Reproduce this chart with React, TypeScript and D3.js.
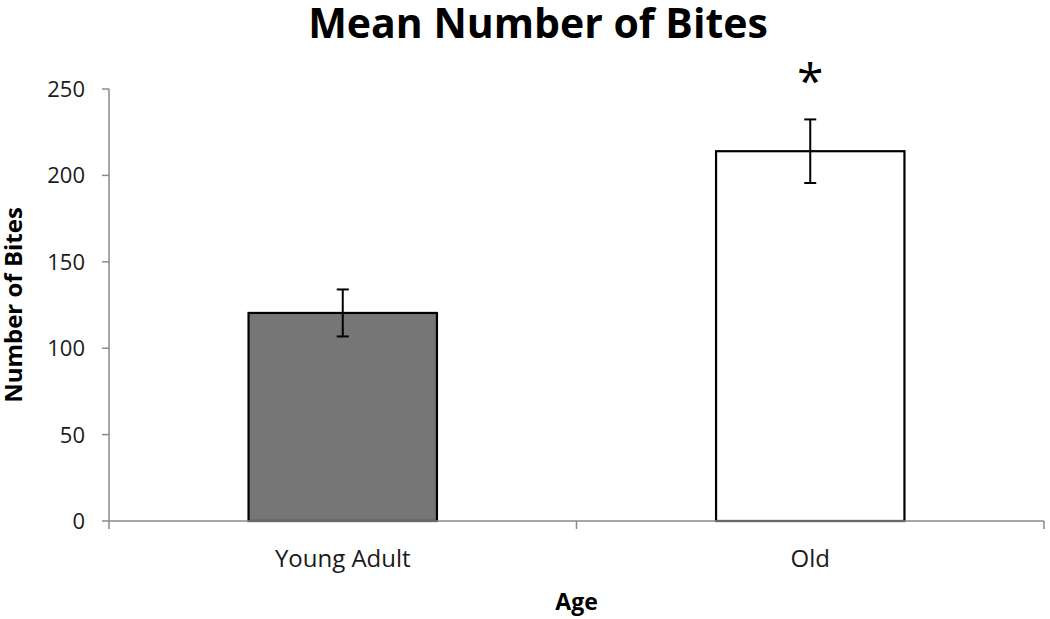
import React from "react";
import * as d3 from "d3";

const categories = ["Young Adult", "Old"];
const means = [120.4, 214];
const errors = [13.6, 18.4];
const fills = ["#767676", "#ffffff"];
const significance = ["", "*"];
const yTicks = [0, 50, 100, 150, 200, 250];

const W = 1050;
const H = 619;
const left = 109;
const right = 1044;
const top = 89;
const bottom = 521;
const font = "'Open Sans', 'Liberation Sans', sans-serif";

export default function App() {
  const x = d3.scaleBand<string>().domain(categories).range([left, right]).paddingInner(0).paddingOuter(0);
  const y = d3.scaleLinear().domain([0, 250]).range([bottom, top]);
  const bw = x.bandwidth() * 0.403;
  const axisColor = "#8a8a8a";
  return (
    <svg width={W} height={H} style={{ position: "absolute", left: 0, top: 0, background: "#fff" }}>
      <text x={538} y={38} textAnchor="middle" fontFamily={font} fontWeight="bold" fontSize={41} fill="#000">
        Mean Number of Bites
      </text>
      {/* y axis */}
      <line x1={left} x2={left} y1={y(250)} y2={y(0)} stroke={axisColor} strokeWidth={1.5} />
      {yTicks.map((t) => (
        <g key={t}>
          <line x1={left - 7} x2={left} y1={y(t)} y2={y(t)} stroke={axisColor} strokeWidth={1.5} />
          <text x={left - 24} y={y(t)} dy="0.36em" textAnchor="end" fontFamily={font} fontSize={22} fill="#1a1a1a">
            {t}
          </text>
        </g>
      ))}
      {/* bars */}
      {categories.map((c, i) => {
        const cx = (x(c) as number) + x.bandwidth() / 2;
        return (
          <g key={c}>
            <rect x={cx - bw / 2} y={y(means[i])} width={bw} height={y(0) - y(means[i])} fill={fills[i]} stroke="#000" strokeWidth={2.2} />
            <line x1={cx} x2={cx} y1={y(means[i] + errors[i])} y2={y(means[i] - errors[i])} stroke="#000" strokeWidth={2} />
            <line x1={cx - 6} x2={cx + 6} y1={y(means[i] + errors[i])} y2={y(means[i] + errors[i])} stroke="#000" strokeWidth={2} />
            <line x1={cx - 6} x2={cx + 6} y1={y(means[i] - errors[i])} y2={y(means[i] - errors[i])} stroke="#000" strokeWidth={2} />
            {significance[i] && (
              <text x={cx} y={y(means[i] + errors[i]) - 21} textAnchor="middle" fontFamily={font} fontSize={48} fill="#000">
                {significance[i]}
              </text>
            )}
            <text x={cx} y={567} textAnchor="middle" fontFamily={font} fontSize={24} fill="#1a1a1a">
              {c}
            </text>
          </g>
        );
      })}
      {/* x axis */}
      <line x1={left} x2={right} y1={bottom} y2={bottom} stroke={axisColor} strokeWidth={1.5} />
      {[left, (left + right) / 2, right].map((px, i) => (
        <line key={i} x1={px} x2={px} y1={bottom} y2={bottom + 8} stroke={axisColor} strokeWidth={1.5} />
      ))}
      <text x={(left + right) / 2} y={610} textAnchor="middle" fontFamily={font} fontWeight="bold" fontSize={23} fill="#000">
        Age
      </text>
      <text transform={`translate(22, ${(top + bottom) / 2}) rotate(-90)`} textAnchor="middle" fontFamily={font} fontWeight="bold" fontSize={24} fill="#000">
        Number of Bites
      </text>
    </svg>
  );
}
